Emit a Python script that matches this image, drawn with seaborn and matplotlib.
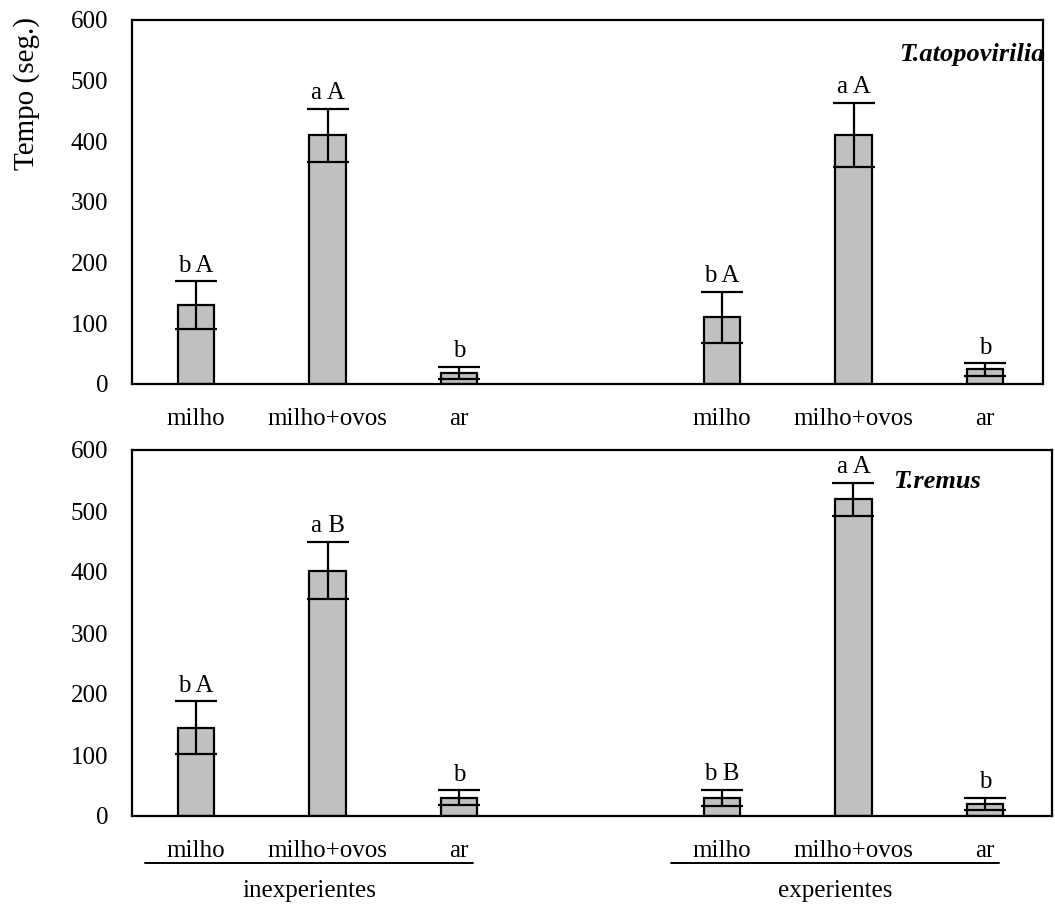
import matplotlib
matplotlib.use("Agg")
import matplotlib.pyplot as plt
import matplotlib.transforms as mtransforms
from matplotlib.lines import Line2D
import numpy as np
import pandas as pd
import seaborn as sns

# ---- data -------------------------------------------------------------
treatments = ["milho", "milho+ovos", "ar"]
groups = ["inexperientes", "experientes"]
positions = [0, 1, 2, 4, 5, 6]

atopo_mean = [130, 410, 18, 110, 410, 24]
atopo_err = [39, 44, 10, 42, 53, 10]
atopo_letters = ["b A", "a A", "b", "b A", "a A", "b"]

remus_mean = [145, 402, 30, 30, 519, 20]
remus_err = [43, 47, 12, 13, 27, 10]
remus_letters = ["b A", "a B", "b", "b B", "a A", "b"]

yticks = [0, 100, 200, 300, 400, 500, 600]

# ---- style ------------------------------------------------------------
sns.set_theme(style="white")
plt.rcParams["font.family"] = ["Liberation Serif", "DejaVu Serif"]
plt.rcParams.update({
    "text.color": "black",
    "axes.labelcolor": "black",
    "xtick.color": "black",
    "ytick.color": "black",
    "axes.edgecolor": "black",
})

FS = 18
BAR = "#C0C0C0"

fig = plt.figure(figsize=(10.55, 9.07), dpi=100)
W, H = 1055, 907


def axes_at(left, top, right, bottom):
    return fig.add_axes([left / W, 1 - bottom / H, (right - left) / W, (bottom - top) / H])


ax_top = axes_at(132, 20, 1043, 384)
ax_bot = axes_at(132, 450, 1052, 816)


def draw_panel(ax, means, errs, letters, xmax):
    df = pd.DataFrame({"pos": positions, "tempo": means})
    sns.barplot(data=df, x="pos", y="tempo", native_scale=True, width=0.28,
                color=BAR, edgecolor="black", linewidth=1.6, saturation=1,
                errorbar=None, ax=ax)
    ax.errorbar(positions, means, yerr=errs, fmt="none", ecolor="black",
                elinewidth=1.6, capsize=15, capthick=1.6)
    for x, m, e, lab in zip(positions, means, errs, letters):
        ax.annotate(lab, (x, m + e), xytext=(0, 7), textcoords="offset points",
                    ha="center", va="baseline", fontsize=FS, color="black")
    ax.set_xlim(-0.487, xmax)
    ax.set_ylim(0, 600)
    ax.set_yticks(yticks)
    ax.set_xticks(positions)
    ax.set_xticklabels(treatments * 2)
    ax.tick_params(axis="both", length=0, labelsize=FS, colors="black")
    ax.tick_params(axis="y", pad=17)
    ax.tick_params(axis="x", pad=17)
    ax.set_xlabel("")
    ax.set_ylabel("")
    for s in ax.spines.values():
        s.set_color("black")
        s.set_linewidth(1.6)


draw_panel(ax_top, atopo_mean, atopo_err, atopo_letters, 6.441)
draw_panel(ax_bot, remus_mean, remus_err, remus_letters, 6.510)

ax_top.text(1.002, 0.905, "T.atopovirilia", transform=ax_top.transAxes,
            ha="right", va="center", fontsize=19, fontweight="bold",
            fontstyle="italic", color="black")
ax_bot.text(0.827, 0.915, "T.remus", transform=ax_bot.transAxes,
            ha="left", va="center", fontsize=19, fontweight="bold",
            fontstyle="italic", color="black")

fig.text(27 / W, 1 - 94 / H, "Tempo (seg.)", rotation=90, ha="center", va="center",
         fontsize=21, color="black")

# group brackets under the lower panel
trans = mtransforms.blended_transform_factory(ax_bot.transData, ax_bot.transAxes)
for g, name in enumerate(groups):
    gpos = positions[g * 3:(g + 1) * 3]
    center = np.mean(gpos) - 0.14
    ax_bot.add_line(Line2D([center - 1.25, center + 1.25], [-0.128, -0.128],
                           transform=trans, color="black", linewidth=1.4, clip_on=False))
    ax_bot.text(center, -0.205, name, transform=trans, ha="center", va="center",
                fontsize=FS, color="black")

fig.savefig("out.png", dpi=100, facecolor="white")
